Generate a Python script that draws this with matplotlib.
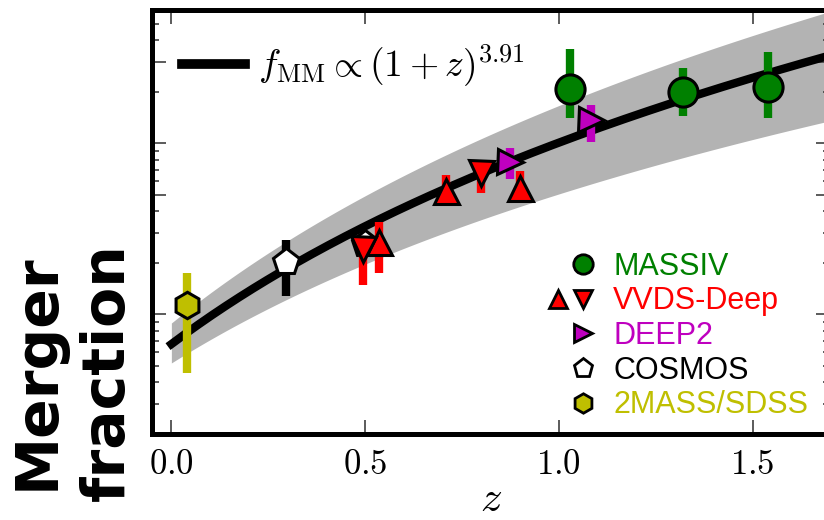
import numpy as np
import matplotlib
matplotlib.use("Agg")
import matplotlib.pyplot as plt
from matplotlib.lines import Line2D
from matplotlib.legend_handler import HandlerTuple

plt.rcParams["mathtext.fontset"] = "cm"

# ---- data ---- #
fit_norm = 0.0067
fit_slope = 3.91
band_lo_norm, band_lo_slope = 0.0052, 3.28
band_hi_norm, band_hi_slope = 0.0089, 4.22

massiv_z = [1.028, 1.32, 1.54]
massiv_f = [0.207, 0.200, 0.213]
massiv_lo = [0.140, 0.145, 0.141]
massiv_hi = [0.354, 0.275, 0.340]

vvds_up_z = [0.537, 0.71, 0.90]
vvds_up_f = [0.0264, 0.0528, 0.0549]
vvds_up_lo = [0.0175, 0.0433, 0.0475]
vvds_up_hi = [0.0345, 0.0653, 0.0689]

vvds_dn_z = [0.494, 0.80]
vvds_dn_f = [0.0241, 0.0671]
vvds_dn_lo = [0.0149, 0.0514]
vvds_dn_hi = [0.028, 0.075]

deep2_z = [0.873, 1.083]
deep2_f = [0.0777, 0.136]
deep2_lo = [0.062, 0.101]
deep2_hi = [0.0936, 0.168]

cosmos_z = [0.297, 0.50]
cosmos_f = [0.0202, 0.0257]
cosmos_lo = [0.0128, 0.022]
cosmos_hi = [0.0271, 0.029]

sdss_z = [0.041]
sdss_f = [0.0113]
sdss_lo = [0.00456]
sdss_hi = [0.0175]

labels = ["MASSIV", "VVDS-Deep", "DEEP2", "COSMOS", "2MASS/SDSS"]
label_colors = ["g", "r", "m", "k", "y"]

xticks = [0.0, 0.5, 1.0, 1.5]
xticklabels = [r"$0.0$", r"$0.5$", r"$1.0$", r"$1.5$"]

# ---- figure ---- #
fig = plt.figure(figsize=(8.24, 5.2), dpi=100)
ax = fig.add_axes([152 / 824, 86 / 520, 678 / 824, 424 / 520])

zz = np.linspace(0.0, 1.75, 200)
ax.fill_between(zz, band_lo_norm * (1 + zz) ** band_lo_slope,
                band_hi_norm * (1 + zz) ** band_hi_slope,
                color="0.7", lw=0, zorder=1)
ax.plot(zz, fit_norm * (1 + zz) ** fit_slope, color="k", lw=6, zorder=2)


def points(z, f, lo, hi, marker, face, ecolor, ms, zo):
    f = np.array(f)
    yerr = [f - np.array(lo), np.array(hi) - f]
    ax.errorbar(z, f, yerr=yerr, fmt="none", ecolor=ecolor, elinewidth=6,
                capsize=0, zorder=zo)
    ax.plot(z, f, ls="none", marker=marker, ms=ms, mfc=face, mec="k",
            mew=2.2, zorder=zo + 0.5)


points(cosmos_z, cosmos_f, cosmos_lo, cosmos_hi, "p", "w", "k", 20, 3)
points(sdss_z, sdss_f, sdss_lo, sdss_hi, "h", "y", "y", 19, 3)
points(vvds_up_z, vvds_up_f, vvds_up_lo, vvds_up_hi, "^", "r", "r", 18, 4)
points(vvds_dn_z, vvds_dn_f, vvds_dn_lo, vvds_dn_hi, "v", "r", "r", 18, 4)
points(deep2_z, deep2_f, deep2_lo, deep2_hi, ">", "m", "m", 18, 5)
points(massiv_z, massiv_f, massiv_lo, massiv_hi, "o", "g", "g", 21, 6)

ax.set_yscale("log")
ax.set_xlim(-0.05, 1.7)
ax.set_ylim(0.002, 0.6)
ax.set_yticks([0.01, 0.05, 0.1, 0.3])
ax.yaxis.set_major_formatter(plt.NullFormatter())
ax.yaxis.set_minor_formatter(plt.NullFormatter())
ax.set_xticks(xticks)
ax.set_xticklabels(xticklabels, fontsize=25)
ax.tick_params(which="both", direction="in", top=True, right=True,
               color="0.25", width=1.2)
ax.tick_params(which="major", length=10, pad=9)
ax.tick_params(which="minor", length=5)
for s in ax.spines.values():
    s.set_linewidth(3.6)
ax.set_xlabel(r"$z$", fontsize=31, labelpad=-2)

fig.text(0.088, 0.285, "Merger\nfraction", rotation=90, ha="center",
         va="center", fontsize=42, fontweight="bold", family="DejaVu Sans",
         linespacing=1.3)

# fit legend
fit_handle = Line2D([], [], color="k", lw=7)
leg1 = ax.legend([fit_handle], [r"$f_{\rm MM} \propto (1+z)^{3.91}$"],
                 loc="center left", bbox_to_anchor=(0.044, 0.868),
                 frameon=False, fontsize=27, handlelength=1.68,
                 handletextpad=0.35, borderpad=0, borderaxespad=0)
ax.add_artist(leg1)

# data legend
blank = Line2D([], [], ls="none")


def mk(marker, face, ms=14):
    return Line2D([], [], ls="none", marker=marker, ms=ms, mfc=face,
                  mec="k", mew=2)


handles = [
    (blank, mk("o", "g")),
    (mk("^", "r", 13), mk("v", "r", 13)),
    (blank, mk(">", "m", 13)),
    (blank, mk("p", "w", 14)),
    (blank, mk("h", "y", 14)),
]
leg2 = ax.legend(handles, labels, loc="center left",
                 bbox_to_anchor=(0.581, 0.231), frameon=False,
                 prop={"family": "Liberation Sans", "size": 22},
                 handler_map={tuple: HandlerTuple(ndivide=2, pad=0)},
                 handlelength=1.6, handletextpad=0.6, labelspacing=0.15,
                 borderpad=0, borderaxespad=0)
for t, c in zip(leg2.get_texts(), label_colors):
    t.set_color(c)

fig.savefig("out.png", dpi=100)
